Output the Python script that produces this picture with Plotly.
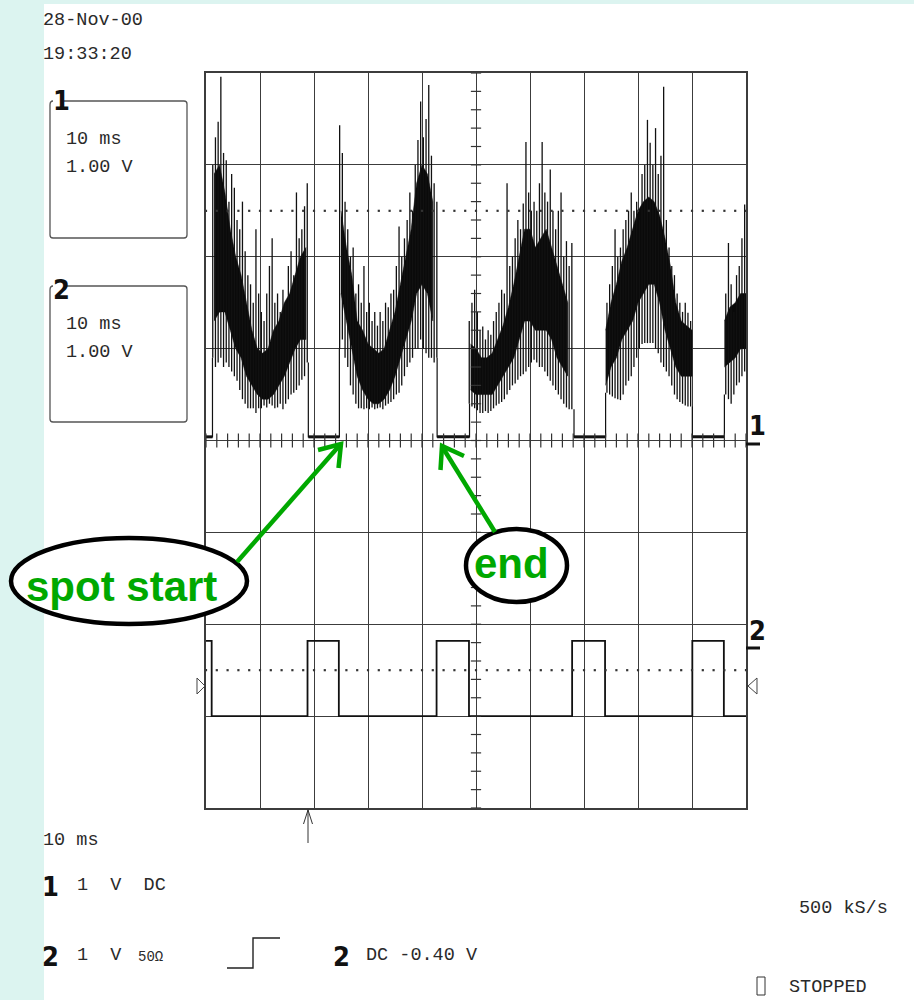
import numpy as np
import plotly.graph_objects as go

# ---------------- data ----------------
# Time base: 10 ms/div, 10 divisions -> 0..100 ms. Vertical: 1 V/div.
CH1_BASE = 0.04          # ch1 level between bursts (V, relative to marker 1)
CH1_OFFSET = 0.0         # ch1 ground position (div)
CH2_OFFSET = -2.25       # ch2 ground position (div)
CH2_HIGH = 0.07          # ch2 levels (V)
CH2_LOW = -0.75
TRIG_LEVEL = -0.40       # ch2 trigger level (V)
TRIG_TIME = 18.9         # ms

# ch1 burst start / end times (ms)
burst_start = [1.2, 24.7, 48.8, 74.0, 96.0]
burst_end = [18.95, 42.8, 68.15, 90.06, None]

# ch1 peak-detect columns every 0.5 ms: first column time, tops and bottoms (V)
b1_t0 = 1.25
b1_hi = [3.0, 3.3, 3.47, 3.96, 3.13, 3.05, 2.6, 2.9, 2.75, 2.4, 2.3, 2.6, 2.06, 1.8, 1.7, 1.5, 2.3, 1.6,
         1.4, 1.3, 1.6, 1.9, 2.2, 1.5, 1.6, 1.4, 1.64, 1.5, 1.9, 2.06, 1.8, 2.7, 2.2, 2.3, 2.55, 2.8]
b1_lo = [0.9, 0.8, 0.85, 0.9, 0.8, 0.85, 0.8, 0.75, 0.7, 0.65, 0.55, 0.45, 0.4, 0.35, 0.35, 0.35, 0.3, 0.35,
         0.35, 0.38, 0.36, 0.4, 0.38, 0.35, 0.36, 0.4, 0.34, 0.4, 0.45, 0.5, 0.52, 0.55, 0.6, 0.66, 0.7, 0.85]
b2_t0 = 24.75
b2_hi = [3.43, 3.13, 2.6, 2.3, 2.0, 2.1, 1.6, 1.7, 1.5, 1.9, 1.4, 1.5, 1.3, 1.4, 1.25, 1.4, 1.3, 1.5, 1.45,
         1.6, 1.64, 1.9, 2.33, 2.0, 2.2, 2.4, 2.7, 2.5, 3.0, 3.27, 3.69, 3.3, 3.5, 3.87, 3.1, 2.8, 2.6]
b2_lo = [1.0, 1.1, 0.9, 0.8, 0.6, 0.5, 0.4, 0.35, 0.35, 0.34, 0.35, 0.34, 0.36, 0.34, 0.35, 0.36, 0.34, 0.38, 0.4,
         0.42, 0.45, 0.5, 0.52, 0.6, 0.7, 0.8, 0.85, 0.9, 1.0, 1.0, 1.1, 1.0, 0.95, 0.9, 0.9, 0.85, 0.9]
b3_t0 = 48.75
b3_hi = [1.3, 1.5, 1.64, 1.4, 1.2, 1.24, 1.1, 1.2, 1.15, 1.3, 1.4, 1.5, 1.64, 1.6, 2.8, 1.9, 2.0, 2.2, 2.4, 2.3,
         2.58, 3.25, 2.7, 2.5, 2.6, 2.5, 2.8, 3.25, 2.7, 2.6, 2.95, 2.5, 2.3, 2.5, 2.7, 2.0, 2.17, 1.9, 2.15]
b3_lo = [0.4, 0.37, 0.35, 0.33, 0.3, 0.3, 0.32, 0.3, 0.32, 0.35, 0.38, 0.4, 0.42, 0.45, 0.5, 0.55, 0.6, 0.62,
         0.66, 0.7, 0.72, 0.75, 0.8, 0.85, 0.88, 0.85, 0.8, 0.8, 0.75, 0.7, 0.65, 0.6, 0.55, 0.5, 0.45, 0.4,
         0.36, 0.34, 0.34]
b4_t0 = 74.25
b4_hi = [1.5, 1.7, 1.9, 2.3, 2.0, 2.1, 2.3, 2.4, 2.5, 2.7, 2.5, 2.6, 2.4, 2.9, 3.0, 3.49, 3.24, 3.0, 3.4, 2.9,
         3.1, 3.85, 2.4, 2.1, 1.9, 1.8, 1.6, 1.5, 1.4, 1.5, 1.39, 1.3]
b4_lo = [0.52, 0.5, 0.48, 0.46, 0.45, 0.44, 0.5, 0.6, 0.65, 0.7, 0.8, 0.9, 1.0, 1.05, 1.06, 1.06, 1.06, 1.06,
         1.0, 0.95, 0.85, 0.8, 0.75, 0.7, 0.6, 0.5, 0.45, 0.42, 0.4, 0.38, 0.37, 0.37]
b5_t0 = 96.25
b5_hi = [1.6, 2.15, 1.7, 1.4, 1.8, 1.9, 2.2, 2.57]
b5_lo = [0.5, 0.45, 0.4, 0.5, 0.6, 0.63, 0.7, 0.75]

# ch1 dense core of each burst, one column per ms
c1_t0, c1_hi, c1_lo = 1.5, [2.9, 3.0, 2.7, 2.3, 2.0, 1.8, 1.5, 1.2, 1.0, 0.95, 1.0, 1.2, 1.3, 1.5, 1.6, 1.8, 2.0, 2.1], \
                           [1.3, 1.4, 1.4, 1.2, 1.0, 0.9, 0.7, 0.6, 0.5, 0.45, 0.45, 0.5, 0.6, 0.7, 0.85, 1.0, 1.1, 1.1]
c2_t0, c2_hi, c2_lo = 25.0, [2.5, 2.1, 1.8, 1.3, 1.2, 1.05, 1.0, 0.95, 1.0, 1.2, 1.4, 1.7, 2.0, 2.3, 2.8, 3.0, 2.9, 2.6], \
                            [1.6, 1.3, 1.0, 0.7, 0.55, 0.45, 0.4, 0.4, 0.45, 0.55, 0.7, 0.9, 1.1, 1.3, 1.6, 1.7, 1.6, 1.3]
c3_t0, c3_hi, c3_lo = 49.0, [1.05, 1.0, 0.9, 0.9, 0.95, 1.1, 1.25, 1.45, 1.7, 2.0, 2.3, 2.3, 2.1, 2.2, 2.3, 2.1, 1.9, 1.7, 1.5], \
                            [0.55, 0.5, 0.5, 0.5, 0.5, 0.6, 0.7, 0.8, 0.9, 1.1, 1.3, 1.3, 1.2, 1.2, 1.2, 1.1, 0.9, 0.8, 0.7]
c4_t0, c4_hi, c4_lo = 74.0, [1.2, 1.5, 1.7, 1.95, 2.1, 2.3, 2.5, 2.6, 2.65, 2.6, 2.45, 2.2, 1.9, 1.5, 1.3, 1.25, 1.2], \
                            [0.6, 0.8, 0.9, 1.1, 1.2, 1.3, 1.5, 1.6, 1.7, 1.7, 1.5, 1.2, 1.0, 0.8, 0.7, 0.7, 0.7]
c5_t0, c5_hi, c5_lo = 96.0, [1.3, 1.45, 1.5, 1.6, 1.6], [0.8, 0.85, 0.9, 1.0, 1.0]

# ch2 edge times (ms) and level after each edge
ch2_t = [0.0, 1.05, 18.8, 24.6, 42.7, 48.7, 67.8, 73.9, 90.06, 95.9, 100.0]
ch2_v = [CH2_HIGH, CH2_LOW, CH2_HIGH, CH2_LOW, CH2_HIGH, CH2_LOW, CH2_HIGH, CH2_LOW, CH2_HIGH, CH2_LOW, CH2_LOW]

# ---------------- geometry helpers (page pixels -> paper) ----------------
W, H = 914, 1000
L, R, T, B = 206, 746, 73, 808


def px(x):
    return (x - L) / (R - L)


def py(y):
    return (B - y) / (B - T)


def path(points, close=False):
    s = "M " + " L ".join(f"{px(x):.5f},{py(y):.5f}" for x, y in points)
    return s + (" Z" if close else "")


# ---------------- traces ----------------
fig = go.Figure()

spikes = [(b1_t0, b1_hi, b1_lo), (b2_t0, b2_hi, b2_lo), (b3_t0, b3_hi, b3_lo),
          (b4_t0, b4_hi, b4_lo), (b5_t0, b5_hi, b5_lo)]
cores = [(c1_t0, c1_hi, c1_lo), (c2_t0, c2_hi, c2_lo), (c3_t0, c3_hi, c3_lo),
         (c4_t0, c4_hi, c4_lo), (c5_t0, c5_hi, c5_lo)]

# dense cores
for t0, hi, lo in cores:
    tc = t0 + np.arange(len(hi))
    fig.add_trace(go.Scatter(x=list(tc) + list(tc[::-1]),
                             y=[v + CH1_OFFSET for v in hi] + [v + CH1_OFFSET for v in lo[::-1]],
                             fill="toself", fillcolor="#0a0a0a", mode="lines",
                             line=dict(width=0.5, color="#0a0a0a"), hoverinfo="skip"))

# ch1 peak-detect columns (vertical strokes)
vx, vy = [], []
for t0, hi, lo in spikes:
    ts = t0 + 0.5 * np.arange(len(hi))
    for t, h, l in zip(ts, hi, lo):
        vx += [t, t, None]
        vy += [l + CH1_OFFSET, h + CH1_OFFSET, None]
fig.add_trace(go.Scatter(x=vx, y=vy, mode="lines", line=dict(color="#111", width=1.3, simplify=False),
                         hoverinfo="skip"))

# ch1 baseline plus burst edges
xs, ys = [0.0], [CH1_BASE]
for (t0, hi, lo), s, e in zip(spikes, burst_start, burst_end):
    xs += [s, s, None]
    ys += [CH1_BASE, lo[0], None]
    if e is not None:
        xs += [e, e]
        ys += [lo[-1], CH1_BASE]
xs.append(100.0 if burst_end[-1] else None)
ys.append(CH1_BASE if burst_end[-1] else None)
fig.add_trace(go.Scatter(x=xs, y=[v + CH1_OFFSET if v is not None else None for v in ys], mode="lines",
                         line=dict(color="#111", width=1.2), hoverinfo="skip", connectgaps=False))

bx, by = [0.0, burst_start[0], None], [CH1_BASE, CH1_BASE, None]
for e, s in zip(burst_end[:-1], burst_start[1:]):
    bx += [e, s, None]
    by += [CH1_BASE, CH1_BASE, None]
fig.add_trace(go.Scatter(x=bx, y=[v + CH1_OFFSET if v is not None else None for v in by], mode="lines",
                         line=dict(color="#111", width=3), hoverinfo="skip"))

# ch2
fig.add_trace(go.Scatter(x=ch2_t, y=[v + CH2_OFFSET for v in ch2_v], mode="lines", line_shape="hv",
                         line=dict(color="#111", width=1.8), hoverinfo="skip"))

# centre graticule ticks
tx, ty = [], []
for k in range(51):
    tx += [2 * k, 2 * k, None]
    ty += [-0.076, 0.076, None]
for k in range(41):
    yv = -4 + 0.2 * k
    tx += [50 - 0.95, 50 + 0.95, None]
    ty += [yv, yv, None]
fig.add_trace(go.Scatter(x=tx, y=ty, mode="lines", line=dict(color="#333", width=1.2), hoverinfo="skip"))

# dotted reference lines at +/- 2.5 div
dx = list(range(0, 101, 2))
for lvl in (2.5, -2.5):
    fig.add_trace(go.Scatter(x=dx, y=[lvl] * len(dx), mode="markers",
                             marker=dict(symbol="square", size=2.2, color="#333", line=dict(width=0)),
                             hoverinfo="skip"))

# ---------------- layout ----------------
shapes = []
shapes.append(dict(type="rect", xref="paper", yref="paper", x0=px(44), x1=px(W + 5), y0=py(H + 5), y1=py(4),
                   fillcolor="white", line=dict(width=0), layer="below"))

GREY = "#555"
for top, bot in ((101, 238), (286, 422)):
    pts = f"M {px(64):.5f},{py(top):.5f} L {px(184):.5f},{py(top):.5f} " \
          f"Q {px(187):.5f},{py(top):.5f} {px(187):.5f},{py(top + 3):.5f} " \
          f"L {px(187):.5f},{py(bot - 3):.5f} Q {px(187):.5f},{py(bot):.5f} {px(184):.5f},{py(bot):.5f} " \
          f"L {px(53):.5f},{py(bot):.5f} Q {px(50):.5f},{py(bot):.5f} {px(50):.5f},{py(bot - 3):.5f} " \
          f"L {px(50):.5f},{py(top + 4):.5f} Q {px(50):.5f},{py(top):.5f} {px(53):.5f},{py(top):.5f}"
    shapes.append(dict(type="path", xref="paper", yref="paper", path=pts, line=dict(color=GREY, width=1.3)))

shapes.append(dict(type="path", xref="paper", yref="paper", path=path([(746, 444), (760, 444)]),
                   line=dict(color="#111", width=3)))
shapes.append(dict(type="path", xref="paper", yref="paper", path=path([(746, 648), (760, 648)]),
                   line=dict(color="#111", width=3)))
shapes.append(dict(type="path", xref="paper", yref="paper", path=path([(197, 678), (205, 686), (197, 694)], True),
                   line=dict(color="#444", width=1)))
shapes.append(dict(type="path", xref="paper", yref="paper", path=path([(757, 678), (748, 686), (757, 694)], True),
                   line=dict(color="#444", width=1)))
shapes.append(dict(type="path", xref="paper", yref="paper", path=path([(308, 843), (308, 810)]),
                   line=dict(color="#333", width=1)))
shapes.append(dict(type="path", xref="paper", yref="paper", path=path([(303.5, 824), (308, 810), (312.5, 824)]),
                   line=dict(color="#333", width=1)))
shapes.append(dict(type="path", xref="paper", yref="paper",
                   path=path([(227, 968), (253, 968), (253, 938), (280, 938)]),
                   line=dict(color="#222", width=1.4)))
shapes.append(dict(type="rect", xref="paper", yref="paper", x0=px(757), x1=px(765), y0=py(995), y1=py(977),
                   line=dict(color="#333", width=1)))

GREEN = "#00a800"
shapes.append(dict(type="circle", xref="paper", yref="paper", x0=px(11), x1=px(247), y0=py(624), y1=py(538),
                   fillcolor="white", line=dict(color="black", width=4.5), layer="above"))
shapes.append(dict(type="circle", xref="paper", yref="paper", x0=px(466), x1=px(567), y0=py(602), y1=py(529),
                   fillcolor="white", line=dict(color="black", width=4.5), layer="above"))
shapes.append(dict(type="path", xref="paper", yref="paper", path=path([(237, 562), (339, 446)]),
                   line=dict(color=GREEN, width=4.5)))
shapes.append(dict(type="path", xref="paper", yref="paper", path=path([(318, 450), (341, 444), (338.5, 468)]),
                   line=dict(color=GREEN, width=4.5)))
shapes.append(dict(type="path", xref="paper", yref="paper", path=path([(495, 532), (443, 448)]),
                   line=dict(color=GREEN, width=4.5)))
shapes.append(dict(type="path", xref="paper", yref="paper", path=path([(440.5, 470), (442, 446), (464, 456)]),
                   line=dict(color=GREEN, width=4.5)))

MONO = "Liberation Mono, DejaVu Sans Mono, monospace"
BOLDF = "Liberation Sans Narrow, DejaVu Sans Condensed, Liberation Sans, Arial"
TXT = "#2a2a2a"
MS = 18.5
ann = []


def txt(x, y, s, size=MS, family=MONO, color=TXT, anchor="left"):
    ann.append(dict(x=px(x), y=py(y), xref="paper", yref="paper", text=s, showarrow=False,
                    xanchor=anchor, yanchor="middle", borderpad=0,
                    font=dict(family=family, size=size, color=color)))


txt(42, 21, "28-Nov-00")
txt(42, 54, "19:33:20")
txt(65, 140, "10 ms")
txt(65, 167, "1.00 V")
txt(65, 324, "10 ms")
txt(65, 352, "1.00 V")
txt(52, 101, "<b>1</b>", size=27, family=BOLDF, color="#111")
txt(52, 289, "<b>2</b>", size=27, family=BOLDF, color="#111")
txt(42, 840, "10 ms")
txt(41, 886, "<b>1</b>", size=27, family=BOLDF, color="#111")
txt(76, 885, "1  V  DC")
txt(41, 956, "<b>2</b>", size=27, family=BOLDF, color="#111")
txt(76, 955, "1  V")
txt(137, 957, "50Ω", size=14)
txt(332, 956, "<b>2</b>", size=27, family=BOLDF, color="#111")
txt(365, 955, "DC -0.40 V")
txt(798, 908, "500 kS/s")
txt(788, 987, "STOPPED")
txt(748, 425, "<b>1</b>", size=27, family=BOLDF, color="#111")
txt(748, 630, "<b>2</b>", size=27, family=BOLDF, color="#111")

ann.append(dict(x=px(121), y=py(586), xref="paper", yref="paper", text="<b>spot start</b>", showarrow=False,
                xanchor="center", yanchor="middle",
                font=dict(family="Liberation Sans, Arial, sans-serif", size=42, color=GREEN)))
ann.append(dict(x=px(511), y=py(563), xref="paper", yref="paper", text="<b>end</b>", showarrow=False,
                xanchor="center", yanchor="middle",
                font=dict(family="Liberation Sans, Arial, sans-serif", size=42, color=GREEN)))

GRID = "#3c3c3c"
fig.update_layout(
    width=W, height=H, autosize=False,
    margin=dict(l=L, r=W - R, t=T, b=H - B, pad=0),
    paper_bgcolor="#dcf4f0", plot_bgcolor="white",
    showlegend=False,
    xaxis=dict(range=[0, 100], dtick=10, tick0=0, showgrid=True, gridcolor=GRID, gridwidth=1.3,
               showticklabels=False, ticks="", zeroline=False, showline=True, mirror=True,
               linecolor=GRID, linewidth=1.5, fixedrange=True),
    yaxis=dict(range=[-4, 4], dtick=1, tick0=0, showgrid=True, gridcolor=GRID, gridwidth=1.3,
               showticklabels=False, ticks="", zeroline=False, showline=True, mirror=True,
               linecolor=GRID, linewidth=1.5, fixedrange=True),
    shapes=shapes,
    annotations=ann,
)

fig.write_html("out.html")
